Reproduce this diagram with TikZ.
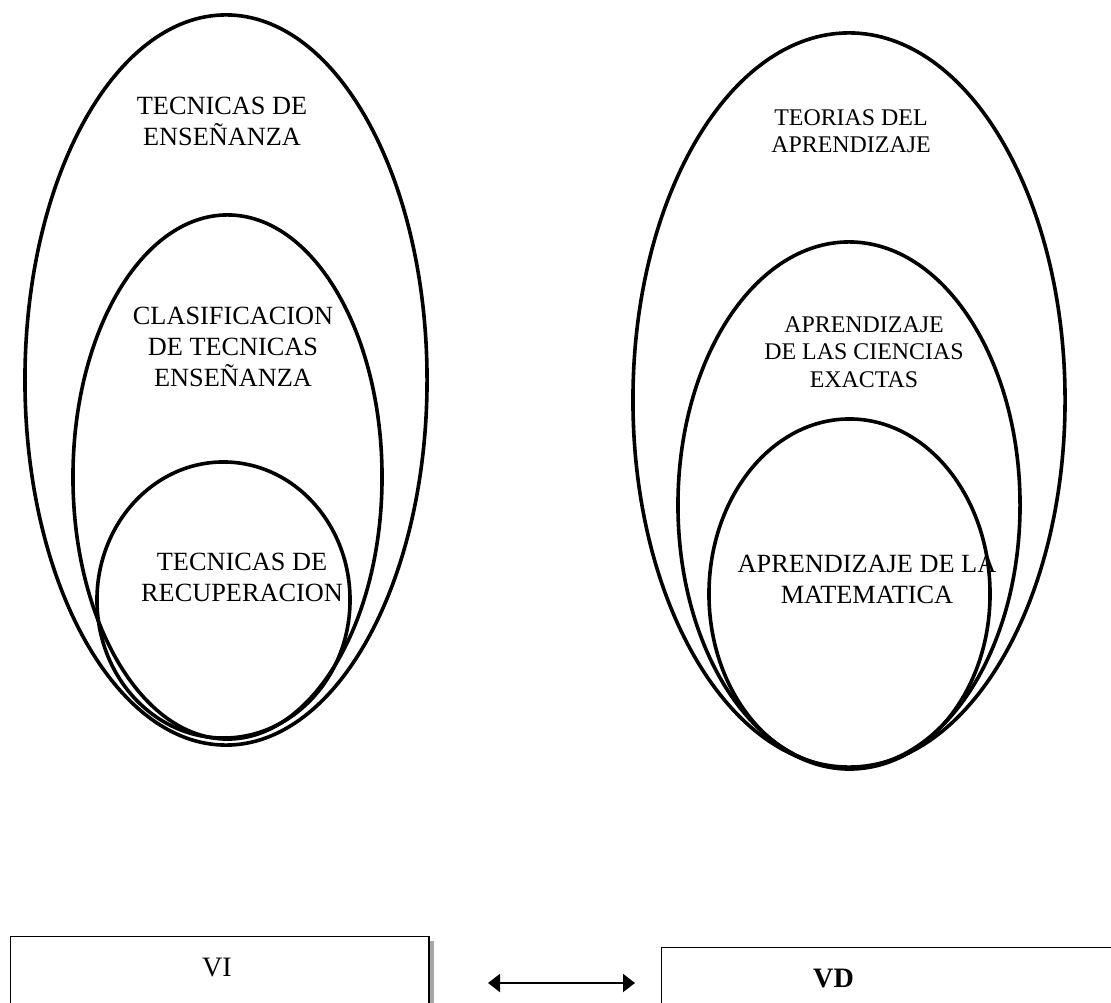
\documentclass[tikz,border=0pt]{standalone}
\usepackage{fontspec}
\setmainfont{Liberation Serif}
\usetikzlibrary{shapes.geometric,arrows.meta,shadows}

\tikzset{
  circulo/.style={draw, ellipse, line width=0.09cm, inner sep=0pt},
  texto/.style={align=center, inner sep=0pt, font=\fontsize{18.7}{22}\selectfont},
  textochico/.style={align=center, inner sep=0pt, font=\fontsize{17}{19.6}\selectfont},
  caja/.style={draw, fill=white, line width=0.035cm, anchor=north west, inner sep=0pt, minimum height=2cm},
  flecha/.style={{Triangle[length=0.3cm,width=0.45cm]}-{Triangle[length=0.3cm,width=0.45cm]}, line width=0.05cm}
}

\begin{document}
\begin{tikzpicture}[x=0.025cm, y=-0.025cm]
        \clip (0,0) rectangle (1111,1003);

        \node[circulo, minimum width=10.05cm, minimum height=18.25cm] at (226,380) (tec) {};
        \node[circulo, minimum width=7.725cm, minimum height=13.1cm] at (227.5,477) (cla) {};
        \node[circulo, minimum width=6.325cm, minimum height=6.9cm] at (223.5,600) (rec) {};

        \node[circulo, minimum width=10.8cm, minimum height=18.35cm] at (849,400) (teo) {};
        \node[circulo, minimum width=8.55cm, minimum height=13.15cm] at (849,505) (apr) {};
        \node[circulo, minimum width=7.025cm, minimum height=8.75cm] at (849.5,594) (mat) {};

        \node[texto] at (222,121.5) (ttec) {TECNICAS DE\\ENSEÑANZA};
        \node[texto] at (233,347) (tcla) {CLASIFICACION\\DE TECNICAS\\ENSEÑANZA};
        \node[texto] at (242,577) (trec) {TECNICAS DE\\RECUPERACION};

        \node[textochico] at (851,131) (tteo) {TEORIAS DEL\\APRENDIZAJE};
        \node[textochico] at (864,352) (tapr) {APRENDIZAJE\\DE LAS CIENCIAS\\EXACTAS};
        \node[texto] at (867,579) (tmat) {APRENDIZAJE DE LA\\MATEMATICA};

        \node[caja, minimum width=10.45cm, drop shadow={shadow xshift=0.125cm, shadow yshift=-0.1cm, fill=gray!70, opacity=1}] at (10,936) (vi) {};
        \node[caja, minimum width=11.475cm] at (661,947) (vd) {};
        \node[font=\fontsize{20}{24}\selectfont, inner sep=0pt] at (217,967.5) (tvi) {VI};
        \node[font=\fontsize{20}{24}\selectfont\bfseries, inner sep=0pt] at (833.5,978) (tvd) {VD};

        \coordinate (izq) at (488,983);
        \coordinate (der) at (635,983);
        \draw[flecha] (izq) -- (der);

    \end{tikzpicture}
\end{document}
